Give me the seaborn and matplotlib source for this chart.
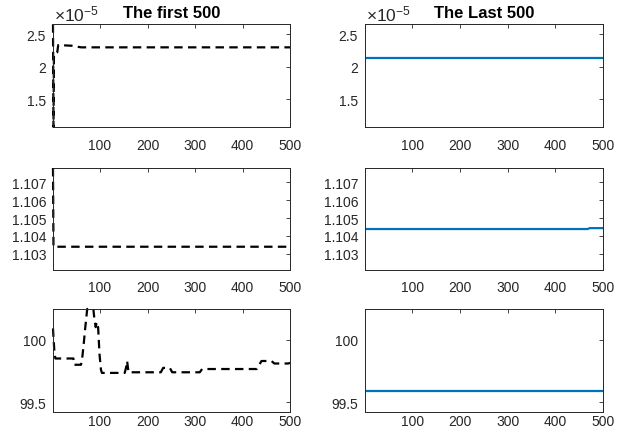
import numpy as np
import pandas as pd
import matplotlib
matplotlib.use("Agg")
import matplotlib.pyplot as plt
import seaborn as sns
from matplotlib.ticker import FixedLocator, FuncFormatter

# ---- data (breakpoints of each trace) ----
# row 1 (values in units of 1e-5)
first_x_r1 = [1, 2, 3, 10, 12, 40, 60, 500]
first_y_r1 = [2.65, 1.07, 2.20, 2.22, 2.33, 2.32, 2.295, 2.295]
last_x_r1 = [1, 500]
last_y_r1 = [2.126, 2.126]

# row 2
first_x_r2 = [1, 2, 500]
first_y_r2 = [1.1078, 1.1034, 1.1034]
last_x_r2 = [1, 468, 472, 500]
last_y_r2 = [1.10439, 1.10439, 1.10444, 1.10444]

# row 3
first_x_r3 = [1, 2, 3, 4, 6, 44, 45, 60, 63, 66, 69, 71, 73, 86, 88, 91, 93, 96,
              99, 102, 104, 152, 155, 157, 160, 228, 233, 247, 252, 310, 315,
              430, 440, 461, 467, 496, 500]
first_y_r3 = [100.09, 100.02, 99.96, 99.90, 99.85, 99.85, 99.80, 99.80, 99.87,
              99.98, 100.10, 100.17, 100.245, 100.245, 100.17, 100.10, 100.14,
              100.10, 99.88, 99.76, 99.735, 99.735, 99.78, 99.83, 99.74, 99.74,
              99.775, 99.775, 99.74, 99.74, 99.766, 99.766, 99.83, 99.83,
              99.81, 99.81, 99.815]
last_x_r3 = [1, 500]
last_y_r3 = [99.593, 99.593]

ylims = [(1.07, 2.654), (1.1021, 1.1078), (99.423, 100.245)]
yticks = [[1.5, 2, 2.5], [1.103, 1.104, 1.105, 1.106, 1.107], [99.5, 100]]
ytick_fmt = ["%g", "%.3f", "%g"]
xticks = [100, 200, 300, 400, 500]
titles = ["The first 500", "The Last 500"]

first = [(first_x_r1, first_y_r1), (first_x_r2, first_y_r2), (first_x_r3, first_y_r3)]
last = [(last_x_r1, last_y_r1), (last_x_r2, last_y_r2), (last_x_r3, last_y_r3)]

sns.set_theme(style="white")
plt.rcParams["font.family"] = ["Liberation Sans", "DejaVu Sans"]
plt.rcParams["mathtext.fontset"] = "custom"
plt.rcParams["mathtext.rm"] = "Liberation Sans"
plt.rcParams["mathtext.it"] = "Liberation Sans"

gray = "#262626"
fig = plt.figure(figsize=(6.19, 4.39), dpi=100)

W, H = 619, 439
cols = [(53, 237), (365, 238)]
rows = [(25, 128), (169, 271), (310, 413)]
xpads = [7.6, 6.9, 1.6]

for r in range(3):
    for c in range(2):
        left, width = cols[c]
        top, bottom = rows[r]
        ax = fig.add_axes([left / W, 1 - bottom / H, width / W, (bottom - top) / H])
        if c == 0:
            xs, ys = first[r]
            df = pd.DataFrame({"it": xs, "v": ys})
            sns.lineplot(data=df, x="it", y="v", ax=ax, color="black", lw=1.6,
                         linestyle=(0, (3.8, 2.4)), sort=False, estimator=None,
                         clip_on=False)
        else:
            xs, ys = last[r]
            df = pd.DataFrame({"it": xs, "v": ys})
            sns.lineplot(data=df, x="it", y="v", ax=ax, color="#0072BD", lw=1.6,
                         sort=False, estimator=None)
        ax.set_xlim(1, 500)
        ax.set_ylim(*ylims[r])
        ax.xaxis.set_major_locator(FixedLocator(xticks))
        ax.yaxis.set_major_locator(FixedLocator(yticks[r]))
        fmt = ytick_fmt[r]
        ax.yaxis.set_major_formatter(FuncFormatter(lambda v, p, f=fmt: f % v))
        ax.set_xlabel("")
        ax.set_ylabel("")
        ax.tick_params(axis="both", direction="in", length=3, width=0.6,
                       colors=gray, labelsize=10, top=True, right=True)
        ax.tick_params(axis="x", pad=xpads[r])
        ax.tick_params(axis="y", pad=5)
        for s in ax.spines.values():
            s.set_color(gray)
            s.set_linewidth(0.7)
        if r == 0:
            ax.set_title(titles[c], fontsize=12, fontweight="bold", color="black", pad=5)
            ax.text(0.005, 1.01, r"$\times10^{-5}$", transform=ax.transAxes,
                    fontsize=12.5, color=gray, ha="left", va="bottom")

fig.savefig("out.png", dpi=100)
